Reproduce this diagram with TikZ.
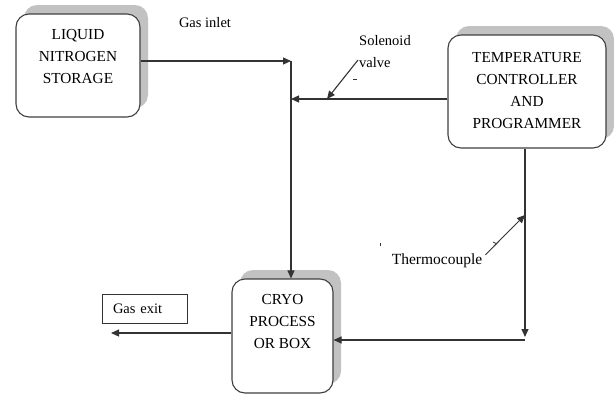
\documentclass[tikz,border=0pt]{standalone}
\usepackage{fontspec}
\setmainfont{Liberation Serif}
\usetikzlibrary{arrows.meta, shadows}

\tikzset{
  box/.style={draw=black!75, line width=1.1pt, fill=white, rounded corners=13pt,
    drop shadow={shadow xshift=8pt, shadow yshift=9pt, fill=black!24, opacity=1}},
  boxtext/.style={anchor=north, inner sep=0pt, align=center,
    font=\fontsize{15.3}{21.8}\selectfont},
  note/.style={inner sep=1pt, font=\fontsize{14.5}{22}\selectfont},
  arr/.style={draw=black!80, line width=1.1pt, -{Triangle[length=8pt,width=7pt]}}
}

\begin{document}
\begin{tikzpicture}[x=1pt, y=-1pt]
  \useasboundingbox (0,0) rectangle (614,394);
  % boxes
  \node[box, minimum width=124pt, minimum height=103pt,
    label={[boxtext, label distance=-16pt]north:LIQUID\\NITROGEN\\STORAGE}] (lns) at (78,65.5) {};
  \node[box, minimum width=158pt, minimum height=113pt,
    label={[boxtext, label distance=-18pt]north:TEMPERATURE\\CONTROLLER\\AND\\PROGRAMMER}] (tc) at (527,91.5) {};
  \node[box, minimum width=101pt, minimum height=114pt,
    label={[boxtext, label distance=-16pt]north:CRYO\\PROCESS\\OR BOX}] (cryo) at (282.5,336) {};
  \node[draw=black!80, line width=0.9pt, minimum width=85pt, minimum height=29pt,
    text width=63pt, inner xsep=11pt, align=left, font=\fontsize{14.5}{16}\selectfont] (exitbox) at (144.5,308.5) {Gas exit};
  % labels
  \node[note] (inlet) at (205,23) {Gas inlet};
  \node[note, anchor=west, align=left] (sol) at (358,52) {Solenoid\\valve};
  \node[note, font=\fontsize{15.5}{22}\selectfont] (thermo) at (437,261) {Thermocouple};
  % junctions
  \coordinate (gin) at (291,61);
  \coordinate (valve) at (291,99);
  \coordinate (sv) at (327,99);
  \coordinate (tcb) at (525,340);
  \coordinate (tcp) at (525,215);
  \coordinate (gout) at (111,333);
  % gas line
  \draw[arr] (lns.east |- gin) -- (gin);
  \draw[arr] (gin) -- (gin |- cryo.north);
  \draw[arr] (tc.west |- valve) -- (valve);
  \draw[arr] ([yshift=-8pt]sol.west) -- (sv);
  \draw[arr] (cryo.west |- gout) -- (gout);
  % thermocouple loop
  \draw[arr] (tc.south -| tcb) -- ([yshift=3pt]tcb);
  \draw[arr] (tcb) -- (cryo.east |- tcb);
  \draw[arr, line width=0.9pt] ([xshift=2pt,yshift=-2pt]thermo.north east) -- (tcp);
  % stray marks
  \draw[black!80, line width=0.8pt] (353,79) -- (357,79);
  \draw[black!80, line width=0.8pt] (380,243) -- (380,246);
  \draw[black!80, line width=0.8pt] (493,242) -- (497,244);
\end{tikzpicture}
\end{document}
